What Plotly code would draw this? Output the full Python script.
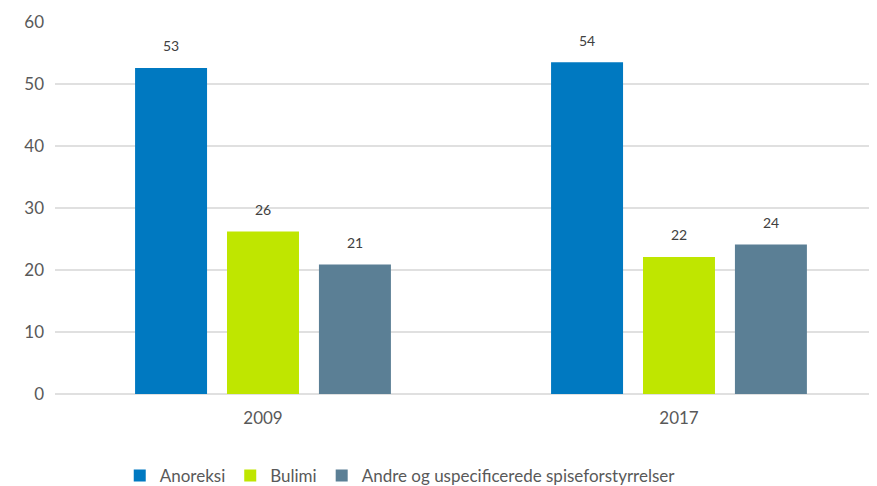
import plotly.graph_objects as go

years = ["2009", "2017"]
series_names = ["Anoreksi", "Bulimi", "Andre og uspecificerede spiseforstyrrelser"]
anoreksi = [52.6, 53.5]
bulimi = [26.2, 22.1]
andre = [20.9, 24.1]
colors = ["#0079C1", "#BFE600", "#5B7F95"]
y_ticks = [0, 10, 20, 30, 40, 50, 60]

BARGAP = 0.337
BARGROUPGAP = 0.217
xpos = list(range(len(years)))
n = len(series_names)
slot = (1 - BARGAP) / n

fig = go.Figure()
annotations = []
for i, (name, vals, c) in enumerate(zip(series_names, [anoreksi, bulimi, andre], colors)):
    fig.add_trace(go.Bar(x=xpos, y=vals, name=name, marker_color=c, marker_line_width=0))
    for xi, v in zip(xpos, vals):
        annotations.append(dict(
            x=xi + (i - (n - 1) / 2) * slot, y=v, xref="x", yref="y",
            text=f"{v:.0f}", showarrow=False, yanchor="middle", yshift=22,
            font=dict(size=14, color="#404040", family="Lato, sans-serif"),
        ))

# the page body adds an 8px offset, so the figure is 8px smaller than the window
fig.update_layout(
    width=869, height=478,
    margin=dict(l=47, r=0, t=14, b=92, autoexpand=False),
    paper_bgcolor="white", plot_bgcolor="white",
    font=dict(family="Lato, Open Sans, sans-serif", size=17, color="#595959"),
    barmode="group", bargap=BARGAP, bargroupgap=BARGROUPGAP,
    showlegend=True,
    legend=dict(orientation="h", x=0.42, xanchor="center", y=-0.22, yanchor="middle",
                font=dict(size=17, color="#595959"), itemwidth=30),
    annotations=annotations,
)
fig.update_yaxes(range=[0, 60], tickvals=y_ticks, showgrid=True, gridcolor="#e0e0e0",
                 gridwidth=2, zeroline=True, zerolinecolor="#e0e0e0", zerolinewidth=2,
                 ticks="", automargin=False, ticklabelstandoff=10,
                 tickfont=dict(size=17, color="#595959"))
fig.update_xaxes(range=[-0.5, 1.476], tickvals=xpos, ticktext=years, showgrid=False,
                 showline=False, ticks="", automargin=False, ticklabelstandoff=12,
                 tickfont=dict(size=17, color="#595959"))

fig.write_html("out.html")
